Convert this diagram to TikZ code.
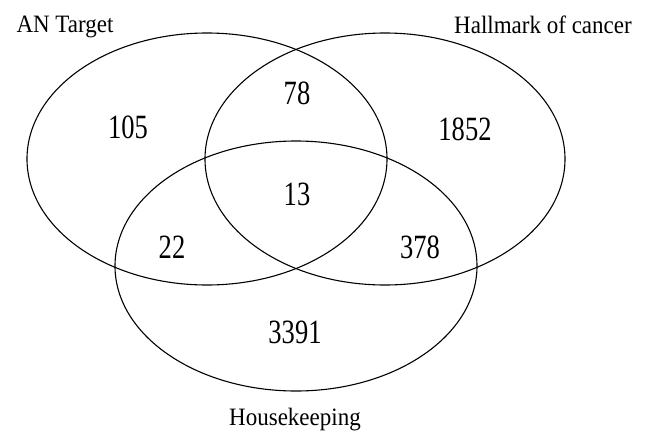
\documentclass[tikz,border=0pt]{standalone}
\usepackage{fontspec}
\setmainfont{Liberation Serif}
\usetikzlibrary{shapes.geometric}
\usetikzlibrary{positioning}

\begin{document}
\begin{tikzpicture}[
    x=1pt, y=-1pt,
    set/.style={ellipse, draw, line width=1.1pt, minimum width=360pt, minimum height=252pt, inner sep=0pt},
    count/.style={anchor=base, xscale=0.78, font=\fontsize{34}{40}\selectfont},
    title/.style={anchor=base, xscale=0.92, font=\fontsize{25}{30}\selectfont}
]
\useasboundingbox (0,0) rectangle (649,432);

% --- The three sets ---
\node[set] (target) at (207,159) {};
\node[set] (hallmark) at (385,159) {};
\node[set, minimum width=362pt, minimum height=250pt] (house) at (296,266) {};

% --- Set names ---
\node[title] (targetname) at (65,32) {AN Target};
\node[title] (hallmarkname) at (543,33) {Hallmark of cancer};
\node[title] (housename) at (295,425) {Housekeeping};

% --- Region counts ---
\foreach \name/\x/\y/\n in {a/128/138/105, ab/297/104/78, b/465/140/1852,
                            abc/297/205/13, ac/172/258/22, bc/420/258/378,
                            c/295/343/3391}
    \node[count] (n\name) at (\x,\y) {\n};

\end{tikzpicture}
\end{document}
